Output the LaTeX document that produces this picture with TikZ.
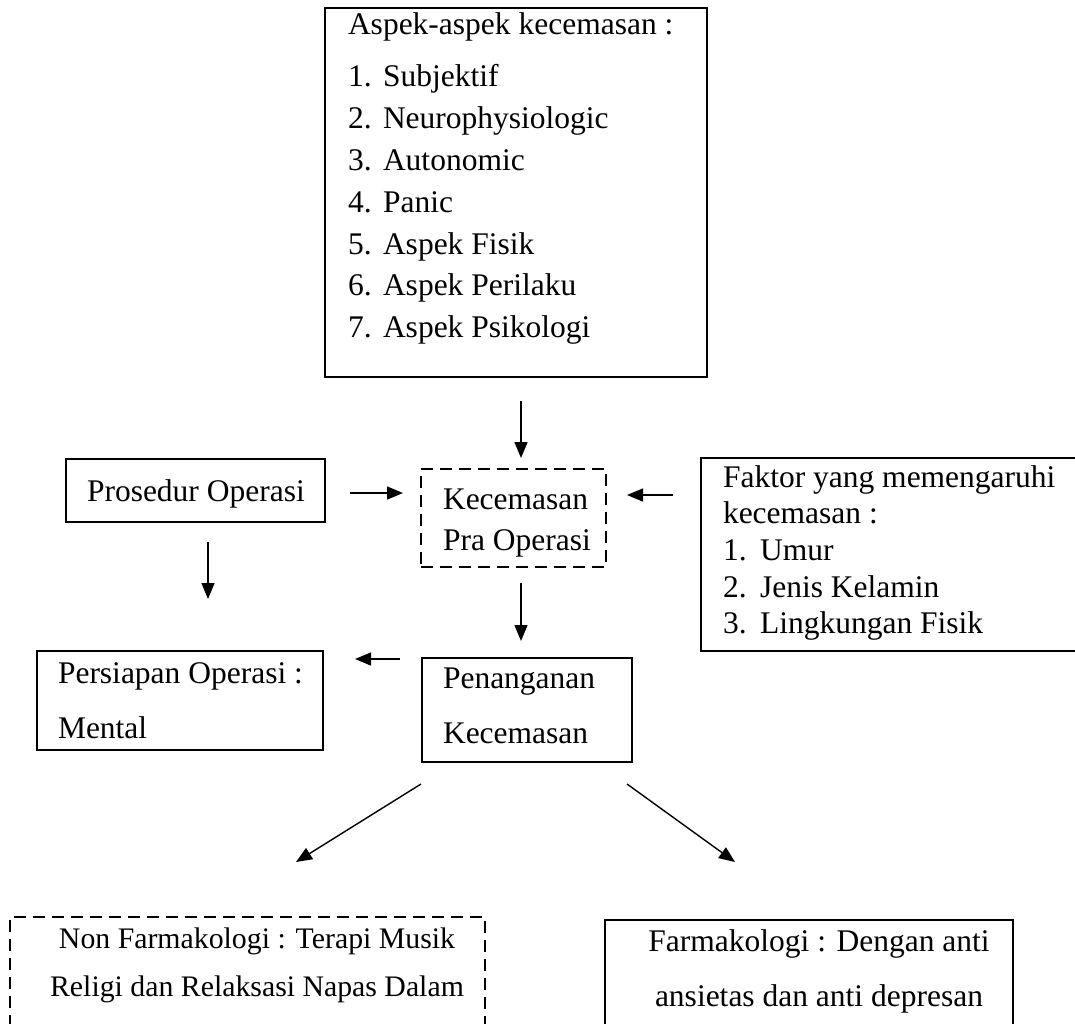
\documentclass[tikz,border=0pt]{standalone}
\usepackage{fontspec}
\setmainfont{Liberation Serif}
\usetikzlibrary{arrows.meta,calc}
\tikzset{
  box/.style={draw=black, line width=2.6pt, rectangle, inner sep=0pt, outer sep=0pt, anchor=north west},
  dbox/.style={box, dash pattern=on 12pt off 7pt},
  arr/.style={draw=black, line width=1.4pt, -{Triangle[length=16pt,width=13pt]}},
  txt/.style={inner sep=0pt, outer sep=0pt, font=\fontsize{31.5}{37}\selectfont},
  stxt/.style={txt, font=\fontsize{29.8}{35}\selectfont},
}
\begin{document}
\begin{tikzpicture}[x=1pt,y=-1pt]
\useasboundingbox (0,0) rectangle (1075,1023);
\clip (0,0) rectangle (1075,1023);
% boxes
\node[box, minimum width=382pt, minimum height=369pt] (top) at (325,8) {};
\node[dbox, minimum width=185pt, minimum height=98pt] (kec) at (421,469) {};
\node[box, minimum width=259pt, minimum height=63pt] (pros) at (66,459) {};
\node[box, minimum width=379pt, minimum height=193pt] (fak) at (701,458) {};
\node[box, minimum width=286pt, minimum height=99pt] (pers) at (37,651) {};
\node[box, minimum width=210pt, minimum height=104pt] (pen) at (422,658) {};
\node[dbox, minimum width=475pt, minimum height=130pt] (non) at (10,917) {};
\node[box, minimum width=408pt, minimum height=130pt] (far) at (605,920) {};
% texts
\node[txt, anchor=base west] (t0) at (348,34) {Aspek-aspek kecemasan :};
\node[txt, anchor=base west] (n1) at (348,86) {1.};
\node[txt, anchor=base west] (i1) at (383,86) {Subjektif};
\node[txt, anchor=base west] (n2) at (348,128) {2.};
\node[txt, anchor=base west] (i2) at (383,128) {Neurophysiologic};
\node[txt, anchor=base west] (n3) at (348,170) {3.};
\node[txt, anchor=base west] (i3) at (383,170) {Autonomic};
\node[txt, anchor=base west] (n4) at (348,212) {4.};
\node[txt, anchor=base west] (i4) at (383,212) {Panic};
\node[txt, anchor=base west] (n5) at (348,254) {5.};
\node[txt, anchor=base west] (i5) at (383,254) {Aspek Fisik};
\node[txt, anchor=base west] (n6) at (348,295) {6.};
\node[txt, anchor=base west] (i6) at (383,295) {Aspek Perilaku};
\node[txt, anchor=base west] (n7) at (348,337) {7.};
\node[txt, anchor=base west] (i7) at (383,337) {Aspek Psikologi};
\node[txt, anchor=base west] (tp) at (87,501) {Prosedur Operasi};
\node[txt, anchor=base west] (tk1) at (443,509) {Kecemasan};
\node[txt, anchor=base west] (tk2) at (443,550) {Pra Operasi};
\node[txt, anchor=base west] (tf1) at (723,487) {Faktor yang memengaruhi};
\node[txt, anchor=base west] (tf2) at (723,523) {kecemasan :};
\node[txt, anchor=base west] (fn1) at (723,560) {1.};
\node[txt, anchor=base west] (fi1) at (760,560) {Umur};
\node[txt, anchor=base west] (fn2) at (723,597) {2.};
\node[txt, anchor=base west] (fi2) at (760,597) {Jenis Kelamin};
\node[txt, anchor=base west] (fn3) at (723,633) {3.};
\node[txt, anchor=base west] (fi3) at (760,633) {Lingkungan Fisik};
\node[txt, anchor=base west] (tpe1) at (58,683) {Persiapan Operasi :};
\node[txt, anchor=base west] (tpe2) at (58,738) {Mental};
\node[txt, anchor=base west] (tpn1) at (443,688) {Penanganan};
\node[txt, anchor=base west] (tpn2) at (443,743) {Kecemasan};
\node[stxt, anchor=base] (tn1) at (257,948) {Non Farmakologi : Terapi Musik};
\node[stxt, anchor=base] (tn2) at (257,996) {Religi dan Relaksasi Napas Dalam};
\node[txt, anchor=base] (tfa1) at (819,951) {Farmakologi : Dengan anti};
\node[txt, anchor=base] (tfa2) at (819,1006) {ansietas dan anti depresan};
% connectors
\draw[arr] ([shift={(5,24)}]top.south) -- ([shift={(7.5,-11)}]kec.north);
\draw[arr] ([shift={(25,2.5)}]pros.east) -- ([shift={(-18,-25)}]kec.west);
\draw[arr] ([shift={(12.5,20)}]pros.south) -- ([shift={(28,-52)}]pers.north);
\draw[arr] ([shift={(-28,-59.5)}]fak.west) -- ([shift={(21,-23)}]kec.east);
\draw[arr] ([shift={(7.5,16)}]kec.south) -- ([shift={(-6,-17)}]pen.north);
\draw[arr] ([shift={(-22,-51)}]pen.west) -- ([shift={(32,-41.5)}]pers.east);
\draw[arr] ([shift={(-106,22)}]pen.south) -- ([shift={(48.5,-55)}]non.north);
\draw[arr] ([shift={(100,22)}]pen.south) -- ([shift={(-74,-58)}]far.north);
\end{tikzpicture}
\end{document}
